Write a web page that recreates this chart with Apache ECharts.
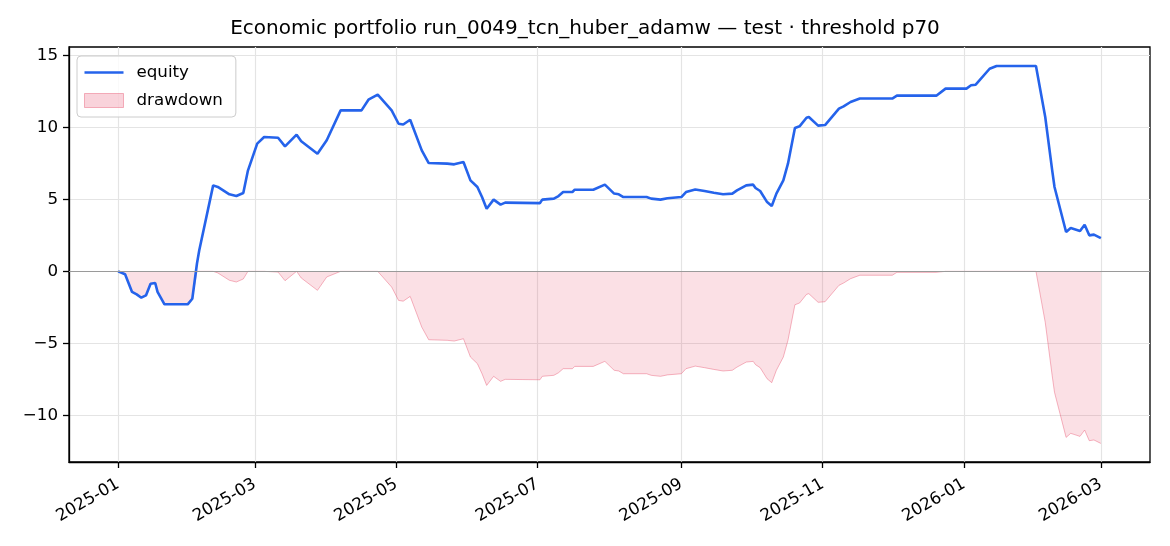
<!DOCTYPE html>
<html>
<head>
<meta charset="utf-8">
<script src="https://cdn.jsdelivr.net/npm/echarts@6/dist/echarts.min.js"></script>
<style>
html,body{margin:0;padding:0;background:#fff;}
#chart{width:1170px;height:546px;}
</style>
</head>
<body>
<div id="chart"></div>
<script>
const titleText = 'Economic portfolio run_0049_tcn_huber_adamw — test · threshold p70';
const tickLabels = ['2025-01','2025-03','2025-05','2025-07','2025-09','2025-11','2026-01','2026-03'];
const yTicks = [-10, -5, 0, 5, 10, 15];

const dates = [
 '2025-01-01','2025-01-04','2025-01-07','2025-01-09','2025-01-11','2025-01-13','2025-01-15','2025-01-17','2025-01-18','2025-01-21',
 '2025-01-31','2025-02-02','2025-02-04','2025-02-05','2025-02-11','2025-02-13','2025-02-18','2025-02-21','2025-02-24','2025-02-26',
 '2025-03-02','2025-03-05','2025-03-11','2025-03-14','2025-03-19','2025-03-21','2025-03-28','2025-04-01','2025-04-07','2025-04-16',
 '2025-04-19','2025-04-23','2025-04-29','2025-05-02','2025-05-04','2025-05-07','2025-05-12','2025-05-15','2025-05-23','2025-05-26',
 '2025-05-30','2025-06-02','2025-06-05','2025-06-07','2025-06-09','2025-06-12','2025-06-15','2025-06-17','2025-07-02','2025-07-03',
 '2025-07-08','2025-07-10','2025-07-12','2025-07-16','2025-07-17','2025-07-25','2025-07-30','2025-08-03','2025-08-05','2025-08-07',
 '2025-08-17','2025-08-19','2025-08-23','2025-08-26','2025-09-01','2025-09-03','2025-09-07','2025-09-11','2025-09-15','2025-09-19',
 '2025-09-23','2025-09-25','2025-09-29','2025-10-02','2025-10-03','2025-10-05','2025-10-08','2025-10-10','2025-10-12','2025-10-15',
 '2025-10-17','2025-10-20','2025-10-22','2025-10-25','2025-10-26','2025-10-30','2025-11-02','2025-11-08','2025-11-10','2025-11-13',
 '2025-11-17','2025-12-01','2025-12-03','2025-12-20','2025-12-24','2026-01-02','2026-01-04','2026-01-06','2026-01-12','2026-01-15',
 '2026-02-01','2026-02-05','2026-02-08','2026-02-09','2026-02-14','2026-02-16','2026-02-20','2026-02-22','2026-02-24','2026-02-26',
 '2026-03-01'
];

const equity = [
 0.00,-0.20,-1.43,-1.60,-1.83,-1.67,-0.86,-0.81,-1.43,-2.29,
 -2.29,-1.90,0.53,1.46,5.97,5.86,5.35,5.23,5.44,7.00,
 8.87,9.33,9.28,8.68,9.49,9.03,8.17,9.10,11.18,11.18,
 11.92,12.27,11.18,10.25,10.20,10.53,8.40,7.52,7.48,7.43,
 7.59,6.32,5.86,5.16,4.35,4.98,4.63,4.77,4.74,4.98,
 5.05,5.23,5.51,5.51,5.67,5.67,6.02,5.40,5.35,5.16,
 5.16,5.05,4.98,5.08,5.16,5.51,5.69,5.58,5.46,5.35,
 5.40,5.62,5.97,6.02,5.79,5.58,4.81,4.54,5.40,6.32,
 7.48,9.95,10.07,10.67,10.72,10.12,10.16,11.30,11.46,11.76,
 12.00,12.00,12.20,12.20,12.69,12.69,12.92,12.96,14.07,14.26,
 14.26,10.72,7.01,5.86,2.73,3.01,2.80,3.24,2.50,2.55,
 2.31
];

const drawdown = [
 0.00,-0.20,-1.43,-1.60,-1.83,-1.67,-0.86,-0.81,-1.43,-2.29,
 -2.29,-1.90,0.00,0.00,0.00,-0.11,-0.62,-0.74,-0.53,0.00,
 0.00,0.00,-0.05,-0.65,0.00,-0.46,-1.32,-0.39,0.00,0.00,
 0.00,0.00,-1.09,-2.02,-2.07,-1.74,-3.87,-4.75,-4.79,-4.84,
 -4.68,-5.95,-6.41,-7.11,-7.92,-7.29,-7.64,-7.50,-7.53,-7.29,
 -7.22,-7.04,-6.76,-6.76,-6.60,-6.60,-6.25,-6.87,-6.92,-7.11,
 -7.11,-7.22,-7.29,-7.19,-7.11,-6.76,-6.58,-6.69,-6.81,-6.92,
 -6.87,-6.65,-6.30,-6.25,-6.48,-6.69,-7.46,-7.73,-6.87,-5.95,
 -4.79,-2.32,-2.20,-1.60,-1.55,-2.15,-2.11,-0.97,-0.81,-0.51,
 -0.27,-0.27,-0.07,-0.07,0.00,0.00,0.00,0.00,0.00,0.00,
 0.00,-3.54,-7.25,-8.40,-11.53,-11.25,-11.46,-11.02,-11.76,-11.71,
 -11.95
];

const DAY = 86400000;
function toTs(s){ const p = s.split('-').map(Number); return Date.UTC(p[0], p[1]-1, p[2] || 1); }
const tickValues = tickLabels.map(toTs);
const xMin = toTs(dates[0]) - 21.2 * DAY;
const xMax = toTs(dates[dates.length-1]) + 21.2 * DAY;

const FONT = 'DejaVu Sans';
const eqData = dates.map((d,i) => [toTs(d), equity[i]]);
const ddData = dates.map((d,i) => [toTs(d), drawdown[i]]);

const BLUE = '#2563eb';
const FILL = 'rgba(230,80,110,0.25)';
const EDGE = 'rgba(230,80,110,0.42)';

const chart = echarts.init(document.getElementById('chart'), null, {renderer:'canvas'});
chart.setOption({
  animation: false,
  backgroundColor: '#ffffff',
  textStyle: { fontFamily: FONT },
  title: {
    text: titleText,
    left: 'center',
    top: 19,
    padding: [0, 0, 0, 49],
    textStyle: { fontFamily: FONT, fontSize: 20, fontWeight: 'normal', color: '#000' }
  },
  legend: {
    orient: 'vertical',
    left: 77,
    top: 56,
    padding: [8, 13, 8, 7],
    itemWidth: 39,
    itemHeight: 14,
    itemGap: 11,
    borderColor: '#cccccc',
    borderWidth: 1,
    borderRadius: 4,
    backgroundColor: 'rgba(255,255,255,0.8)',
    textStyle: { fontFamily: FONT, fontSize: 16.7, color: '#000', lineHeight: 14, padding: [0,0,0,8] },
    data: [
      { name: 'equity', icon: 'path://M0,0 M0,5.7 L39,5.7 L39,8.3 L0,8.3 Z M39,14', itemStyle: { color: BLUE, borderWidth: 0 } },
      { name: 'drawdown', icon: 'rect', itemStyle: { color: FILL, borderColor: EDGE, borderWidth: 1 } }
    ]
  },
  grid: { show: true, borderColor: '#000', borderWidth: 1.3, backgroundColor: 'transparent',
          left: 69, right: 20, top: 47, bottom: 84, outerBoundsMode: 'none', containLabel: false },
  xAxis: {
    type: 'value',
    min: xMin,
    max: xMax,
    axisLine: { show: true, onZero: false, lineStyle: { color: '#000', width: 1.3 } },
    axisTick: { show: true, length: 6, inside: false, customValues: tickValues, lineStyle: { color: '#000', width: 1.3 } },
    axisLabel: {
      customValues: tickValues,
      rotate: 30,
      margin: 21,
      fontFamily: FONT,
      fontSize: 16.7,
      color: '#000',
      formatter: function (v) {
        const i = tickValues.indexOf(v);
        return i >= 0 ? tickLabels[i] : '';
      }
    },
    splitLine: { show: true, lineStyle: { color: '#e4e4e4', width: 1.2 } }
  },
  yAxis: {
    type: 'value',
    min: -13.24,
    max: 15.58,
    axisLine: { show: true, onZero: false, lineStyle: { color: '#000', width: 1.3 } },
    axisTick: { show: true, length: 6, inside: false, customValues: yTicks, lineStyle: { color: '#000', width: 1.3 } },
    axisLabel: {
      customValues: yTicks,
      margin: 11,
      fontFamily: FONT,
      fontSize: 16.7,
      color: '#000',
      formatter: function (v) { return v < 0 ? '\u2212' + Math.abs(v) : String(v); }
    },
    splitLine: { show: true, lineStyle: { color: '#e4e4e4', width: 1.2 } }
  },
  series: [
    {
      name: 'drawdown',
      type: 'line',
      data: ddData,
      symbol: 'none',
      z: 1,
      lineStyle: { color: EDGE, width: 1 },
      itemStyle: { color: FILL },
      areaStyle: { color: FILL, origin: 0 },
      markLine: {
        silent: true,
        symbol: 'none',
        label: { show: false },
        lineStyle: { color: '#9a9a9a', width: 1.2, type: 'solid' },
        data: [{ yAxis: 0 }]
      }
    },
    {
      name: 'equity',
      type: 'line',
      data: eqData,
      symbol: 'none',
      z: 3,
      lineStyle: { color: BLUE, width: 2.6 },
      itemStyle: { color: BLUE }
    }
  ]
});
</script>
</body>
</html>
